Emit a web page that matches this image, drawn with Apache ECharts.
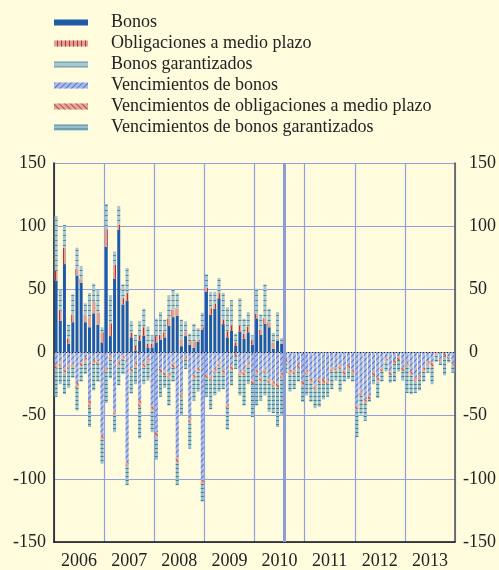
<!DOCTYPE html>
<html>
<head>
<meta charset="utf-8">
<script src="https://cdn.jsdelivr.net/npm/echarts@6/dist/echarts.min.js"></script>
<style>
html, body { margin: 0; padding: 0; background: #fffcde; }
#chart { width: 499px; height: 570px; }
</style>
</head>
<body>
<div id="chart"></div>
<script>
var years = ['2006', '2007', '2008', '2009', '2010', '2011', '2012', '2013'];
var months = [];
years.forEach(function (y) {
    for (var m = 1; m <= 12; m++) months.push(y + '-' + (m < 10 ? '0' : '') + m);
});

// issuance, Jan 2006 - Jul 2010
var bonos = [57, 25, 70, 7, 24, 61, 55, 24, 20, 31, 22, 8,
    83.6, 13, 58.5, 97, 38, 41, 12, 1.6, 9.5, 13.5, 4, 4,
    8, 10, 12, 21, 28, 29, 5, 13, 6, 3.7, 8.7, 18,
    48, 30, 34.7, 43, 22.5, 12, 17, 5.5, 16.7, 11, 16, 6.3,
    27, 14, 22.7, 20, 3, 9.5, 7];
var obligaciones = [7.5, 8, 13, 4, 6, 5, 3, 6, 8, 9, 9.5, 8,
    14, 10, 11, 4, 5, 6, 3.5, 4, 4, 6.5, 3, 3,
    5, 4, 4, 6, 6, 6, 5, 3.7, 3, 5, 1.5, 2,
    3, 5, 4, 4, 3.7, 4.7, 4.5, 2.5, 4.7, 4, 4.6, 3.2,
    3.7, 4, 4.3, 4, 5, 1.5, 0.5];
var garantizados = [43.5, 16, 18, 11, 16, 17, 10.5, 9, 19, 14.5, 17.5, 4,
    20, 22, 10.5, 15, 11, 20, 9.5, 8.5, 11.5, 14.7, 13.6, 6.5,
    13.7, 18, 10, 18, 16, 12, 16, 8, 6, 14, 9, 11.5,
    11, 13, 9.4, 12, 21, 19, 20, 7, 21.6, 11.7, 11.4, 4,
    19.8, 12, 27, 10.7, 7.6, 21, 4];

// maturities, Jan 2006 - Dec 2013
var vencBonos = [10, 8, 14, 10, 9, 24, 8, 4, 38, 6, 7, 66,
    12, 2.5, 46, 8, 3, 87, 13, 8, 38, 9, 5, 43,
    63, 13, 15, 17, 9, 83, 32, 3, 52, 18, 12, 101,
    17, 19, 13, 8, 14, 41, 11, 1, 15, 14, 8, 22,
    14, 20, 13, 21, 23, 24, 16, 6, 14, 14, 10, 23,
    14, 21, 26, 21, 21, 22, 12, 12, 10, 14, 10, 14,
    42, 31, 37, 34, 16, 20, 12, 5, 15, 6, 3, 12,
    8, 15, 20, 18, 12, 7, 8, 1, 5, 1, 3, 9];
var vencObligaciones = [3, 3, 3, 3, 2, 4, 3, 3, 5, 3, 2, 3,
    3, 3, 3, 3, 3, 3, 3, 3, 5, 3, 3, 3,
    4, 3, 3, 3, 3, 4, 3, 3, 3, 3, 3, 3,
    3, 3, 3, 3, 3, 3, 3, 2, 3, 4, 3, 3,
    3, 3, 3, 3, 4, 4, 4, 2, 3, 3, 3, 3,
    3, 3, 3, 3, 4, 3, 3, 2, 3, 3, 3, 3,
    3, 3, 3, 3, 3, 3, 3, 2, 3, 3, 3, 3,
    3, 3, 3, 3, 3, 3, 3, 1.5, 2, 2, 2, 2];
var vencGarantizados = [22, 14, 16, 15, 9, 18, 12, 10, 16, 21, 14, 19,
    25, 15, 14, 15, 11, 15, 16.5, 14, 25, 13, 14, 17,
    18, 19, 10, 22, 11, 18, 15, 7, 21, 17, 16, 14,
    15, 23, 18, 20, 12, 17, 12, 10, 16, 24, 14, 26,
    25, 15, 18, 23, 21, 31, 30, 8, 14, 12, 10, 13,
    17, 15, 15, 19, 12, 10, 14, 8, 18, 6, 8, 6,
    22, 15, 14, 2, 6, 13, 8, 8, 6, 14, 9, 7,
    21, 15, 9, 9, 8, 6, 14, 5, 3, 15, 3, 5];

var yTicks = [-150, -100, -50, 0, 50, 100, 150];
var endOfProgramme = 55.2; // months since Jan 2006, end of purchase programme

function pad(arr) {
    var out = arr.slice();
    while (out.length < months.length) out.push(null);
    return out;
}
function neg(arr) {
    return arr.map(function (v) { return -v; });
}
function bar(name, data, color, decal) {
    var s = {
        name: name,
        type: 'bar',
        stack: 'total',
        data: data,
        barWidth: 3,
        itemStyle: { color: color },
        emphasis: { disabled: true }
    };
    if (decal) s.itemStyle.decal = decal;
    return s;
}

var chart = echarts.init(document.getElementById('chart'));

var serie4 = bar('Vencimientos de bonos', neg(vencBonos), '#a9b9ea',
    { symbol: 'rect', color: '#5675c8', dashArrayX: [1, 0], dashArrayY: [1, 3], rotation: -Math.PI / 4 });
serie4.markLine = {
    symbol: 'none', silent: true, label: { show: false },
    lineStyle: { color: '#222', width: 1, type: [1, 2] },
    data: [{ yAxis: 0 }]
};

chart.setOption({
    backgroundColor: '#fffcde',
    animation: false,
    textStyle: { fontFamily: 'Liberation Serif', color: '#222' },
    legend: {
        orient: 'vertical',
        left: 54,
        top: 13.5,
        padding: 0,
        icon: 'rect',
        itemWidth: 34,
        itemHeight: 6,
        itemGap: 3,
        textStyle: { fontSize: 18, lineHeight: 18, color: '#222', padding: [0, 0, 0, 18] },
        data: ['Bonos', 'Obligaciones a medio plazo', 'Bonos garantizados',
            'Vencimientos de bonos', 'Vencimientos de obligaciones a medio plazo',
            'Vencimientos de bonos garantizados']
    },
    grid: { left: 54, right: 44, top: 163, bottom: 28 },
    xAxis: [{
        type: 'category',
        data: months,
        position: 'bottom',
        axisLine: { onZero: false, lineStyle: { color: '#111', width: 1.5 } },
        axisTick: { interval: 11, inside: true, length: 5, lineStyle: { color: '#111' } },
        axisLabel: { show: false },
        splitLine: { show: true, interval: 11, lineStyle: { color: '#8fa0dc', width: 1.2 } }
    }, {
        type: 'category',
        data: years,
        position: 'bottom',
        axisLine: { show: false },
        axisTick: { show: false },
        axisLabel: { fontSize: 18, color: '#222', margin: 10 },
        splitLine: { show: false }
    }, {
        // continuous month scale, only used to place the programme-end line
        type: 'value',
        min: 0,
        max: months.length,
        show: false
    }],
    yAxis: [{
        type: 'value',
        min: yTicks[0],
        max: yTicks[yTicks.length - 1],
        interval: 50,
        position: 'left',
        axisLine: { show: true, lineStyle: { color: '#111', width: 1.5 } },
        axisTick: { show: false },
        axisLabel: { fontSize: 18, color: '#222', margin: 8 },
        splitLine: { lineStyle: { color: '#8fa0dc', width: 1.2 } }
    }, {
        type: 'value',
        min: yTicks[0],
        max: yTicks[yTicks.length - 1],
        interval: 50,
        position: 'right',
        axisLine: { show: true, lineStyle: { color: '#555', width: 1.5 } },
        axisTick: { show: false },
        axisLabel: {
            fontSize: 18, color: '#222', margin: 8,
            formatter: function (v) { return v < 0 ? '{n|' + v + '}' : '{p|' + v + '}'; },
            rich: { n: { fontSize: 18 }, p: { fontSize: 18, padding: [0, 0, 0, 6] } }
        },
        splitLine: { show: false }
    }],
    series: [
        bar('Bonos', pad(bonos), '#1f5aa8'),
        bar('Obligaciones a medio plazo', pad(obligaciones), '#dca297',
            { symbol: 'rect', color: '#b8322a', dashArrayX: [1, 0], dashArrayY: [1, 3], rotation: Math.PI / 2 }),
        bar('Bonos garantizados', pad(garantizados), '#aac6cf',
            { symbol: 'rect', color: '#4f8ca0', dashArrayX: [1, 0], dashArrayY: [1, 4], rotation: 0 }),
        serie4,
        bar('Vencimientos de obligaciones a medio plazo', neg(vencObligaciones), '#e0a89c',
            { symbol: 'rect', color: '#c0493a', dashArrayX: [1, 0], dashArrayY: [1, 3], rotation: Math.PI / 4 }),
        bar('Vencimientos de bonos garantizados', neg(vencGarantizados), '#9cc0cb',
            { symbol: 'rect', color: '#3d8298', dashArrayX: [1, 0], dashArrayY: [1, 3], rotation: 0 }),
        {
            type: 'line',
            xAxisIndex: 2,
            data: [],
            silent: true,
            markLine: {
                symbol: 'none', silent: true, label: { show: false },
                lineStyle: { color: '#8c9dd6', width: 3, type: 'solid' },
                data: [{ xAxis: endOfProgramme }]
            }
        }
    ]
});
</script>
</body>
</html>
